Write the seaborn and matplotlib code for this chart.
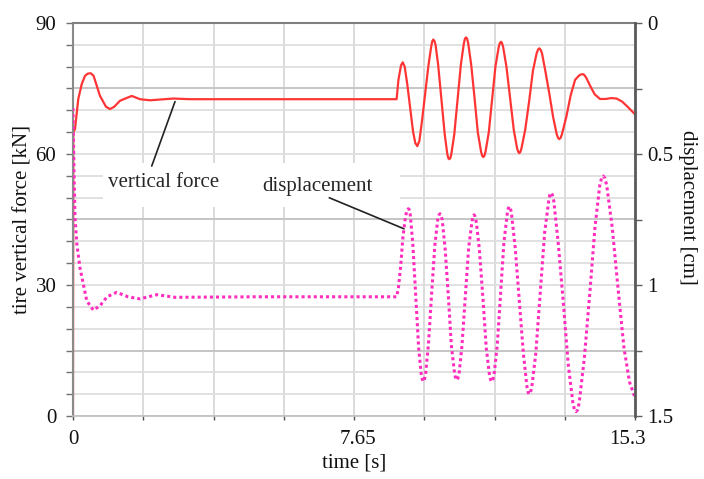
import matplotlib
matplotlib.use("Agg")
import matplotlib.pyplot as plt
import matplotlib.transforms as mtransforms
import pandas as pd
import seaborn as sns
from matplotlib.patches import Rectangle

# Tire vertical force [kN] over time [s]
force_t = [0.0, 0.008, 0.054, 0.144, 0.237, 0.327, 0.40, 0.482, 0.56, 0.735, 0.90, 1.007, 1.12,
           1.28, 1.598, 1.824, 2.096, 2.731, 3.185, 5.0, 7.0, 8.81,
           8.86, 8.93, 8.976, 9.03, 9.10, 9.18, 9.26, 9.32, 9.373, 9.43, 9.50, 9.59,
           9.68, 9.75, 9.78, 9.809, 9.84, 9.87, 9.94, 10.03, 10.12, 10.19, 10.215,
           10.245, 10.275, 10.30, 10.38, 10.47, 10.56, 10.64, 10.67, 10.699, 10.73,
           10.76, 10.84, 10.93, 11.02, 11.11, 11.14, 11.17, 11.20, 11.23, 11.32, 11.41,
           11.50, 11.59, 11.62, 11.652, 11.68, 11.71, 11.80, 11.90, 12.00, 12.09,
           12.12, 12.15, 12.18, 12.21, 12.31, 12.42, 12.52, 12.62, 12.66, 12.695,
           12.73, 12.77, 12.87, 12.97, 13.07, 13.17, 13.205, 13.239, 13.275, 13.31,
           13.43, 13.55, 13.67, 13.78, 13.83, 13.876, 13.92, 13.97, 14.08, 14.20,
           14.347, 14.50, 14.65, 14.80, 14.95, 15.10, 15.30]
force_kn = [0.0, 65.0, 65.7, 72.6, 76.0, 77.9, 78.4, 78.5, 77.9, 73.3, 70.8, 70.3, 70.8,
            72.2, 73.3, 72.55, 72.3, 72.7, 72.55, 72.55, 72.55, 72.55,
            77.0, 80.3, 81.0, 80.0, 76.0, 70.5, 65.0, 62.5, 61.8, 63.0, 67.5, 74.0,
            80.5, 84.5, 85.8, 86.2, 85.9, 85.0, 80.5, 72.5, 64.5, 60.0, 59.1,
            58.8, 59.1, 60.0, 64.5, 72.5, 80.5, 85.3, 86.4, 86.7, 86.4,
            85.3, 80.5, 73.0, 65.0, 60.5, 59.6, 59.3, 59.6, 60.5, 65.0, 72.5,
            80.0, 84.5, 85.4, 85.7, 85.4, 84.5, 80.0, 72.8, 65.5, 61.3,
            60.5, 60.2, 60.5, 61.3, 65.5, 72.2, 79.0, 83.0, 83.9, 84.2,
            83.9, 83.0, 78.5, 73.7, 68.5, 64.5, 63.7, 63.4, 63.7, 64.5,
            68.5, 73.5, 77.0, 78.0, 78.2, 78.3, 78.1, 77.5, 75.6, 73.7,
            72.6, 72.6, 72.8, 72.7, 72.0, 70.8, 69.1]

# Displacement [cm] over time [s]
disp_t = [0.0, 0.027, 0.054, 0.109, 0.19, 0.373, 0.553, 0.735, 0.926, 1.19, 1.497,
          1.824, 2.279, 2.777, 5.0, 7.0, 8.81,
          8.86, 8.92, 8.98, 9.05, 9.09, 9.128, 9.16, 9.18, 9.25, 9.33, 9.41, 9.48, 9.51,
          9.537, 9.565, 9.60, 9.68, 9.76, 9.85, 9.93, 9.96, 9.991, 10.02, 10.05, 10.13,
          10.22, 10.30, 10.39, 10.42, 10.446, 10.475, 10.51, 10.59, 10.68, 10.77,
          10.86, 10.89, 10.917, 10.945, 10.98, 11.06, 11.16, 11.25, 11.34, 11.37,
          11.399, 11.43, 11.46, 11.55, 11.64, 11.73, 11.82, 11.85, 11.878, 11.91,
          11.94, 12.04, 12.15, 12.26, 12.36, 12.39, 12.422, 12.455, 12.49, 12.60,
          12.72, 12.84, 12.95, 12.98, 13.013, 13.05, 13.09, 13.21, 13.35, 13.48,
          13.61, 13.65, 13.694, 13.74, 13.78, 13.92, 14.07, 14.21, 14.34, 14.39,
          14.437, 14.48, 14.53, 14.68, 14.85, 15.00, 15.15, 15.30]
disp_cm = [0.325, 0.563, 0.742, 0.849, 0.934, 1.060, 1.096, 1.079, 1.045, 1.028, 1.045,
           1.053, 1.037, 1.047, 1.045, 1.045, 1.045,
           1.01, 0.93, 0.82, 0.74, 0.716, 0.709, 0.714, 0.73, 0.84, 1.04, 1.24, 1.34, 1.36,
           1.369, 1.362, 1.34, 1.22, 1.04, 0.85, 0.75, 0.734, 0.728, 0.734, 0.75, 0.86,
           1.045, 1.23, 1.34, 1.357, 1.363, 1.357, 1.34, 1.23, 1.045, 0.86,
           0.76, 0.738, 0.732, 0.738, 0.76, 0.86, 1.05, 1.24, 1.345, 1.362,
           1.369, 1.362, 1.345, 1.23, 1.035, 0.84, 0.73, 0.708, 0.700, 0.708,
           0.73, 0.86, 1.06, 1.26, 1.39, 1.41, 1.417, 1.41, 1.39, 1.26,
           1.03, 0.80, 0.68, 0.656, 0.648, 0.656, 0.68, 0.84, 1.07, 1.30,
           1.45, 1.476, 1.4835, 1.476, 1.45, 1.28, 1.03, 0.78, 0.62, 0.592,
           0.584, 0.592, 0.62, 0.78, 1.03, 1.24, 1.37, 1.43]

# Axis ticks and labels
time_ticks = [0.0, 1.9125, 3.825, 5.7375, 7.65, 9.5625, 11.475, 13.3875, 15.3]
time_labels = ["0", "", "", "", "7.65", "", "", "", "15.3"]
force_ticks = [0, 5, 10, 15, 20, 25, 30, 35, 40, 45, 50, 55, 60, 65, 70, 75, 80, 85, 90]
force_labels = ["0", "", "", "", "", "", "30", "", "", "", "", "", "60", "", "", "", "", "", "90"]
disp_ticks = [0, 0.25, 0.5, 0.75, 1.0, 1.25, 1.5]
disp_labels = ["0", "", "0.5", "", "1", "", "1.5"]
strong_force_grid = [15, 45, 75]

force_df = pd.DataFrame({"time": force_t, "force": force_kn})
disp_df = pd.DataFrame({"time": disp_t, "disp": disp_cm})

sns.set_theme(style="white")
plt.rcParams["font.family"] = ["Liberation Serif", "DejaVu Serif"]
plt.rcParams["axes.axisbelow"] = True

fig = plt.figure(figsize=(7.04, 4.79), dpi=100)
fig.patch.set_facecolor("white")
ax = fig.add_axes([73 / 704, 1 - 416 / 479, 562 / 704, 393 / 479])
ax2 = ax.twinx()

FS = 15

# grid
ax.set_xlim(0, 15.3)
ax.set_ylim(0, 90)
ax.set_xticks(time_ticks)
ax.set_xticklabels(time_labels, fontsize=FS)
ax.set_yticks(force_ticks)
ax.set_yticklabels(force_labels, fontsize=FS)
ax.grid(axis="y", color="#dedede", linewidth=1.3)
ax.grid(axis="x", color="#d4d4d4", linewidth=1.2)
for v in strong_force_grid:
    ax.axhline(v, color="#c6c6c6", linewidth=1.4, zorder=0.6)

# white backing behind the annotation labels
ax.add_patch(Rectangle((0.053, 0.531), 0.529, 0.114, transform=ax.transAxes,
                       facecolor="white", edgecolor="none", zorder=1))

sns.lineplot(data=force_df, x="time", y="force", ax=ax, color="#ff3535",
             linewidth=1.6, estimator=None, sort=False, zorder=2)

ax2.set_ylim(1.5, 0)
ax2.set_yticks(disp_ticks)
ax2.set_yticklabels(disp_labels, fontsize=FS)
sns.lineplot(data=disp_df, x="time", y="disp", ax=ax2, color="#ff2dbe",
             linewidth=2.2, linestyle=(0, (1, 1.0)), estimator=None, sort=False)
ax2.set_xlim(0, 15.3)

# annotations
ax.annotate("vertical force", xy=(2.777, 72.0), xytext=(0.953, 52.35),
            fontsize=FS, ha="left", va="baseline", zorder=3)
ax.plot([2.143, 2.777], [57.24, 72.0], color="#222222", linewidth=1.2, zorder=3)
ax.annotate("displacement", xy=(9.011, 42.87), xytext=(5.145, 51.5),
            fontsize=FS, ha="left", va="baseline", zorder=3)
ax.plot([6.977, 9.011], [49.98, 42.87], color="#222222", linewidth=1.2, zorder=3)

# spines and ticks
for s in ["left", "top", "bottom"]:
    ax2.spines[s].set_visible(False)
ax.spines["right"].set_visible(False)
ax.spines["top"].set_color("#808080")
ax.spines["top"].set_linewidth(1.5)
ax.spines["left"].set_color("#8a8a8a")
ax.spines["left"].set_linewidth(1.5)
ax.spines["bottom"].set_color("#bdbdbd")
ax.spines["bottom"].set_linewidth(1.2)
ax2.spines["right"].set_color("#5a5a5a")
ax2.spines["right"].set_linewidth(2.0)

ax.tick_params(axis="y", left=True, direction="out", length=5, width=1.0,
               color="#707070", pad=7, labelcolor="#111111")
ax.tick_params(axis="x", bottom=True, direction="out", length=3, width=1.0,
               color="#505050", pad=7, labelcolor="#111111")
ax2.tick_params(axis="y", right=True, direction="out", length=5, width=1.0,
                color="#606060", pad=4, labelcolor="#111111")

# nudge the outer time labels as they sit in the original layout
xlabels = ax.get_xticklabels()
xlabels[4].set_transform(xlabels[4].get_transform()
                         + mtransforms.ScaledTranslation(4 / 100, 0, fig.dpi_scale_trans))
xlabels[8].set_transform(xlabels[8].get_transform()
                         + mtransforms.ScaledTranslation(-8 / 100, 0, fig.dpi_scale_trans))

ax.set_xlabel("time [s]", fontsize=FS, labelpad=3, color="#111111")
ax2.set_xlabel("")
ax.set_ylabel("tire vertical force [kN]", fontsize=FS, color="#111111")
ax.yaxis.set_label_coords(-0.0712, 0.5)
ax2.set_ylabel("displacement [cm]", fontsize=FS, rotation=270, va="bottom",
               color="#111111")
ax2.yaxis.set_label_coords(1.0765, 0.532)

fig.savefig("out.png", dpi=100, facecolor="white")
